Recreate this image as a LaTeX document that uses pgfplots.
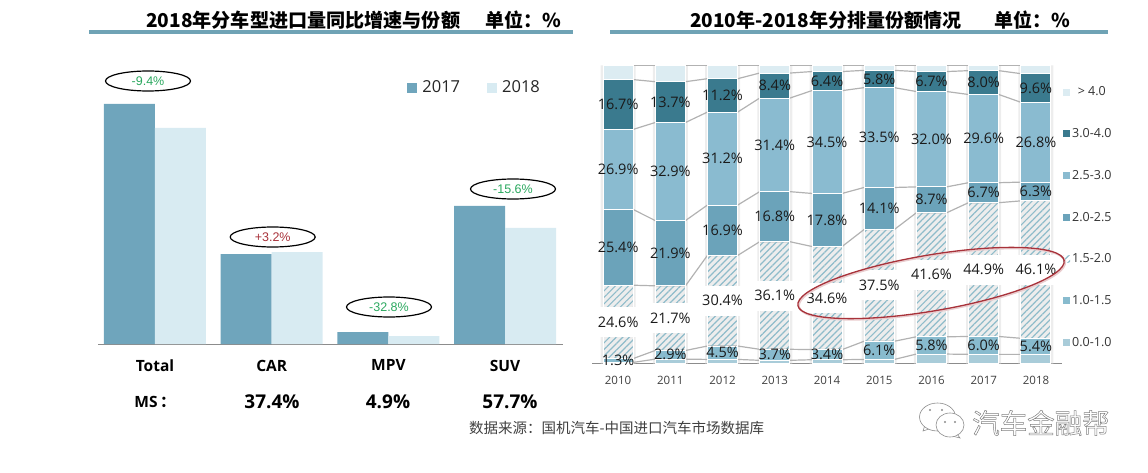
\documentclass[border=0pt]{standalone}
\usepackage{fontspec}
\usepackage{pgfplots}
\pgfplotsset{compat=1.18}
\usepackage{pgfplotstable}
\usetikzlibrary{patterns.meta}
\setmainfont{Open Sans}
\newfontfamily\cjk{Noto Sans CJK SC}
\newfontfamily\arial{Liberation Sans}
\definecolor{tealA}{HTML}{6FA5BC}
\definecolor{tealB}{HTML}{D8EBF2}
\definecolor{rulec}{HTML}{6FA3B5}
\definecolor{c0}{HTML}{A9CCD9}
\definecolor{c1}{HTML}{88BBCE}
\definecolor{hatch}{HTML}{8FBCCA}
\definecolor{c3}{HTML}{6BA3BA}
\definecolor{c4}{HTML}{8ABBD0}
\definecolor{c5}{HTML}{3A7A8E}
\definecolor{c6}{HTML}{DCECF2}
\definecolor{lbl}{HTML}{1A1A1A}
\definecolor{grn}{HTML}{2BA85F}
\definecolor{rdd}{HTML}{A8323A}
\pgfplotstableread{
x v17 v18
0 240 216
1 90 92
2 12 8
3 138 116
}\shares
\pgfplotstableread{
x a b c d e f g
0 0.3 1.3 24.6 25.4 26.9 16.7 4.8
1 1.4 2.9 21.7 21.9 32.9 13.7 5.5
2 1.3 4.5 30.4 16.9 31.2 11.2 4.5
3 1.0 3.7 36.1 16.8 31.4 8.4 2.6
4 1.2 3.4 34.6 17.8 34.5 6.4 2.0
5 1.3 6.1 37.5 14.1 33.5 5.8 1.7
6 3.1 5.8 41.6 8.7 32.0 6.7 2.1
7 3.0 6.0 44.9 6.7 29.6 8.0 1.8
8 3.0 5.4 46.1 6.3 26.8 9.6 2.8
}\mix
\pgfplotstableread{
x c1 c2 c3 c4 c5 c6 c7
0.29 0.3 1.6 26.2 51.6 78.5 95.2 100
0.71 1.4 4.3 26.0 47.9 80.8 94.5 100
1.29 1.4 4.3 26.0 47.9 80.8 94.5 100
1.71 1.3 5.8 36.2 53.1 84.3 95.5 100
2.29 1.3 5.8 36.2 53.1 84.3 95.5 100
2.71 1.0 4.7 40.8 57.6 89.0 97.4 100
3.29 1.0 4.7 40.8 57.6 89.0 97.4 100
3.71 1.2 4.6 39.2 57.0 91.5 97.9 100
4.29 1.2 4.6 39.2 57.0 91.5 97.9 100
4.71 1.3 7.4 44.9 59.0 92.5 98.3 100
5.29 1.3 7.4 44.9 59.0 92.5 98.3 100
5.71 3.1 8.9 50.5 59.2 91.2 97.9 100
6.29 3.1 8.9 50.5 59.2 91.2 97.9 100
6.71 3.0 9.0 53.9 60.6 90.2 98.2 100
7.29 3.0 9.0 53.9 60.6 90.2 98.2 100
7.71 3.0 8.4 54.5 60.8 87.6 97.2 100
}\cums
\pgfplotstableread{
x full
0 100
1 100
2 100
3 100
4 100
5 100
6 100
7 100
8 100
}\frames
\begin{document}
\begin{tikzpicture}[x=1pt,y=1pt]
\path[use as bounding box] (0,0) rectangle (1148,472);
% ---------- titles
\fill[rulec] (89,438) rectangle (573,442);
\fill[rulec] (610,438) rectangle (1108,442);
\node[anchor=west,font=\cjk\bfseries\fontsize{19.1}{19}\selectfont,text=black,inner sep=0] at (146,452) {2018年分车型进口量同比增速与份额};
\node[anchor=west,font=\cjk\bfseries\fontsize{19}{19}\selectfont,text=black,inner sep=0] at (485,452) {单位：\%};
\node[anchor=west,font=\cjk\bfseries\fontsize{19}{19}\selectfont,text=black,inner sep=0] at (690,452) {2010年-2018年分排量份额情况};
\node[anchor=west,font=\cjk\bfseries\fontsize{19}{19}\selectfont,text=black,inner sep=0] at (994,452) {单位：\%};
% ---------- left chart
\begin{axis}[
  at={(98pt,128pt)},anchor=south west,scale only axis,
  width=465pt,height=260pt,
  xmin=-0.488,xmax=3.496,ymin=0,ymax=260,
  ybar=0pt,bar width=51pt,
  axis x line*=bottom,axis y line=none,
  x axis line style={-,draw=black!45,line width=0.9pt},
  xtick={0,1,2,3},xticklabels={Total,CAR,MPV,SUV},
  xtick style={draw=none},
  xticklabel style={font=\bfseries\fontsize{15.5}{15.5}\selectfont,text=black,yshift=-8pt},
  legend columns=2,
  legend style={draw=none,fill=none,at={(0.665,1.02)},anchor=north west,
    font=\fontsize{16.5}{16.5}\selectfont,
    /tikz/every even column/.append style={column sep=25pt},
    /tikz/every odd column/.append style={column sep=3pt},
    inner sep=0pt,text=black!85},
  legend image code/.code={\fill[#1,draw=none] (0pt,-5pt) rectangle (10pt,5pt);},
]
\addplot[fill=tealA,draw=none] table[x=x,y=v17] {\shares};
\addlegendentry{2017}
\addplot[fill=tealB,draw=none] table[x=x,y=v18] {\shares};
\addlegendentry{2018}
\end{axis}
\foreach \cx/\cy/\tx/\col in {148/391/-9.4\%/grn,272.7/235/+3.2\%/rdd,389/165/-32.8\%/grn,513/283/-15.6\%/grn}{
  \draw[black,line width=1.2pt] (\cx,\cy) ellipse (42.5 and 10);
  \node[font=\arial\fontsize{12.5}{12.5}\selectfont,text=\col,inner sep=0] at (\cx,\cy) {\tx};
}
\node[font=\bfseries\fontsize{15.5}{16}\selectfont] at (155,70) {MS\,{\cjk：}};
\node[font=\bfseries\fontsize{19}{19}\selectfont] at (272,70) {37.4\%};
\node[font=\bfseries\fontsize{19}{19}\selectfont] at (388,70) {4.9\%};
\node[font=\bfseries\fontsize{19}{19}\selectfont] at (510,70) {57.7\%};
% ---------- right chart: frames and connectors
\begin{axis}[
  at={(592pt,108.7pt)},anchor=south west,scale only axis,
  width=470pt,height=298pt,
  xmin=-0.5,xmax=8.5,ymin=0,ymax=100,clip=false,
  axis x line*=bottom,axis y line=none,
  x axis line style={-,draw=black!45,line width=0.9pt},
  xtick=\empty,
]
\addplot[ybar,bar width=35pt,fill=black!7,draw=none] table[x=x,y=full] {\frames};
\foreach \c in {c1,c2,c3,c4,c5,c6,c7}{
  \addplot[draw=black!30,line width=1.2pt,no marks] table[x=x,y=\c] {\cums};
}
\end{axis}
% ---------- right chart: bars
\begin{axis}[
  at={(592pt,108.7pt)},anchor=south west,scale only axis,
  width=470pt,height=298pt,
  xmin=-0.5,xmax=8.5,ymin=0,ymax=100,
  ybar stacked,bar width=30pt,
  axis x line=none,axis y line=none,
  clip=false,
  legend style={draw=none,fill=none,at={(1.0,0.935)},anchor=north west,
    font=\fontsize{12.5}{12.5}\selectfont,text=black!80,
    row sep=27.2pt,inner sep=0pt,xshift=1pt,
    /tikz/every even column/.append style={column sep=2pt}},
  reverse legend,
  legend image code/.code={\fill[#1,draw=none] (0pt,-3.5pt) rectangle (7pt,3.5pt);},
  every axis plot/.append style={draw=white,line width=0.9pt},
  lab/.style={
    nodes near coords={\pgfmathprintnumber[fixed,fixed zerofill,precision=1,assume math mode=true]{\pgfplotspointmeta}\%},
    nodes near coords style={font=\fontsize{14.5}{14.5}\selectfont,text=lbl,anchor=center,inner sep=0pt}},
]
\addplot[fill=c0] table[x=x,y=a] {\mix};
\addlegendentry{0.0-1.0}
\addplot[fill=c1,lab] table[x=x,y=b] {\mix};
\addlegendentry{1.0-1.5}
\addplot[pattern={Lines[angle=45,distance=4.6pt,line width=1.2pt]},pattern color=hatch,lab,
  nodes near coords style={fill=white,minimum height=30pt,minimum width=40pt}] table[x=x,y=c] {\mix};
\addlegendentry{1.5-2.0}
\addplot[fill=c3,lab] table[x=x,y=d] {\mix};
\addlegendentry{2.0-2.5}
\addplot[fill=c4,lab] table[x=x,y=e] {\mix};
\addlegendentry{2.5-3.0}
\addplot[fill=c5,lab] table[x=x,y=f] {\mix};
\addlegendentry{3.0-4.0}
\addplot[fill=c6] table[x=x,y=g] {\mix};
\addlegendentry{> 4.0}
\end{axis}
\foreach \yr [count=\i from 0] in {2010,...,2018}{
  \node[font=\fontsize{11.5}{11.5}\selectfont,text=black!75,inner sep=0] at ({618+52.25*\i},92) {\yr};
}
% ---------- red ellipse
\draw[rdd!25,line width=2pt,rotate around={9.6:(932,188)}] (932,188) ellipse (135 and 28);
\draw[rdd,line width=1.3pt,rotate around={9.6:(931,189)}] (931,189) ellipse (135 and 28);
% ---------- source and watermark
\node[anchor=west,font=\cjk\fontsize{14.5}{14.5}\selectfont,text=black!75,inner sep=0] at (469,44) {数据来源：国机汽车-中国进口汽车市场数据库};
\begin{scope}[draw=black!45,line width=0.6pt]
\draw[fill=white] (925,47) -- (923,41) -- (932,44);
\draw[fill=white] (937.5,55) ellipse (18 and 14);
\draw[fill=white] (957,38) -- (960,34) -- (952,36);
\draw[fill=white] (950,47) ellipse (14 and 12);
\fill[black!45] (930,62) circle (1.2) (942,62) circle (1.2) (945,50) circle (1.1) (955,50) circle (1.1);
\end{scope}
\node[anchor=west,font=\cjk\fontsize{27.5}{27.5}\selectfont,text=black!55,inner sep=0] at (972,49) {\special{pdf:code q 1 Tr 0.5 w 0.5 G}汽车金融帮\special{pdf:code Q}};
\end{tikzpicture}
\end{document}
